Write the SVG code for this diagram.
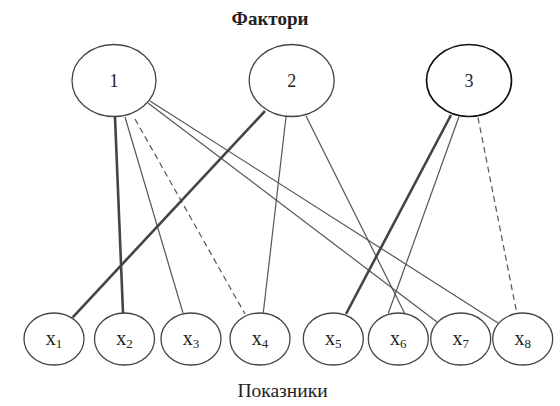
<svg xmlns="http://www.w3.org/2000/svg" width="560" height="406" viewBox="0 0 560 406">
<style>
text{font-family:"Liberation Serif","Times New Roman","DejaVu Serif",serif;fill:#222}
.node ellipse{fill:#fff;stroke:#444;stroke-width:1.3}
.node.f3 ellipse{stroke:#111;stroke-width:1.7}
.num{font-size:18px;text-anchor:middle}
.lbl{font-size:20px;text-anchor:middle}
.sub{font-size:13px}
.thin{stroke:#555;stroke-width:1.2;fill:none}
.thick{stroke:#444;stroke-width:2.6;fill:none}
.dash{stroke:#555;stroke-width:1.2;stroke-dasharray:6 4;fill:none}
</style>
<rect width="560" height="406" fill="#fff"/>
<text x="270" y="25" style="font-size:19px;font-weight:bold;text-anchor:middle">Фактори</text>
<text x="282.5" y="397" style="font-size:19.5px;text-anchor:middle">Показники</text>
<g id="connectors">
<line class="thick" x1="115" y1="117" x2="123" y2="313"/>
<line class="thin" x1="125" y1="117" x2="183" y2="313"/>
<line class="dash" x1="135" y1="119" x2="245" y2="314"/>
<line class="thin" x1="148" y1="103" x2="437" y2="322"/>
<line class="thin" x1="150" y1="101" x2="498" y2="323"/>
<line class="thick" x1="265" y1="111" x2="72.7" y2="317.3"/>
<line class="thin" x1="286" y1="117" x2="263.3" y2="312.7"/>
<line class="thin" x1="306" y1="116" x2="405" y2="314"/>
<line class="thick" x1="451" y1="115" x2="346" y2="314"/>
<line class="thin" x1="459" y1="116.5" x2="388.3" y2="313.3"/>
<line class="dash" x1="478" y1="117.5" x2="516.7" y2="312.7"/>
</g>
<g id="f1" class="node"><ellipse cx="114" cy="80.5" rx="42" ry="36"/><text class="num" x="114" y="87">1</text></g>
<g id="f2" class="node"><ellipse cx="291.7" cy="80.5" rx="42.5" ry="36"/><text class="num" x="291.7" y="87">2</text></g>
<g id="f3" class="node f3"><ellipse cx="469" cy="80.5" rx="42.5" ry="36"/><text class="num" x="469" y="87">3</text></g>
<g id="x1" class="node"><ellipse cx="54" cy="339" rx="30" ry="26"/><text class="lbl" x="54" y="345">x<tspan class="sub" dy="3">1</tspan></text></g>
<g id="x2" class="node"><ellipse cx="124.5" cy="339" rx="30" ry="26"/><text class="lbl" x="124.5" y="345">x<tspan class="sub" dy="3">2</tspan></text></g>
<g id="x3" class="node"><ellipse cx="191" cy="339" rx="30" ry="26"/><text class="lbl" x="191" y="345">x<tspan class="sub" dy="3">3</tspan></text></g>
<g id="x4" class="node"><ellipse cx="260" cy="339" rx="30" ry="26"/><text class="lbl" x="260" y="345">x<tspan class="sub" dy="3">4</tspan></text></g>
<g id="x5" class="node"><ellipse cx="333.3" cy="339" rx="30" ry="26"/><text class="lbl" x="333.3" y="345">x<tspan class="sub" dy="3">5</tspan></text></g>
<g id="x6" class="node"><ellipse cx="398.3" cy="339" rx="30" ry="26"/><text class="lbl" x="398.3" y="345">x<tspan class="sub" dy="3">6</tspan></text></g>
<g id="x7" class="node"><ellipse cx="460.7" cy="339" rx="30" ry="26"/><text class="lbl" x="460.7" y="345">x<tspan class="sub" dy="3">7</tspan></text></g>
<g id="x8" class="node"><ellipse cx="522.7" cy="339" rx="30" ry="26"/><text class="lbl" x="522.7" y="345">x<tspan class="sub" dy="3">8</tspan></text></g>
</svg>
